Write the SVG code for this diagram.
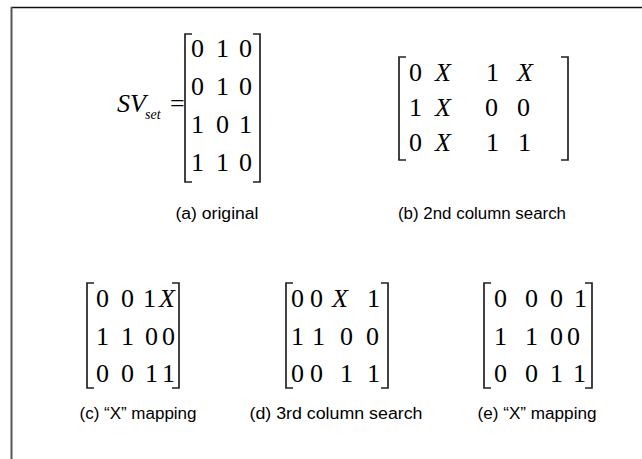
<svg xmlns="http://www.w3.org/2000/svg" width="642" height="459" viewBox="0 0 642 459">
<style>
.m{font-family:"Liberation Serif","Times New Roman",serif;font-size:26px;fill:#000}
.i{font-style:italic}
.lb{font-family:"Liberation Sans",Arial,sans-serif;font-size:16px;fill:#000;text-anchor:middle}
.br{fill:none;stroke:#222;stroke-width:1.7}
</style>
<rect width="642" height="459" fill="#fff"/>
<g id="frame">
<line x1="11" y1="7.5" x2="642" y2="7.5" stroke="#111" stroke-width="1.5"/>
<line x1="11.5" y1="7" x2="11.5" y2="459" stroke="#555" stroke-width="2"/>
</g>
<g id="a">
<text class="m i" x="117" y="112">S</text><text class="m i" x="130" y="112">V</text>
<text class="m i" x="145" y="119" style="font-size:14px">set</text>
<text class="m" x="170" y="112">=</text>
<path class="br" d="M192,34 H185 V182 H192"/>
<path class="br" d="M253,34 H260 V182 H253"/>
<text class="m" x="191" y="57">0</text><text class="m" x="216" y="57">1</text><text class="m" x="239" y="57">0</text>
<text class="m" x="191" y="95">0</text><text class="m" x="216" y="95">1</text><text class="m" x="239" y="95">0</text>
<text class="m" x="191" y="133">1</text><text class="m" x="216" y="133">0</text><text class="m" x="239" y="133">1</text>
<text class="m" x="191" y="171">1</text><text class="m" x="216" y="171">1</text><text class="m" x="239" y="171">0</text>
<text class="lb" x="217" y="219" textLength="83" lengthAdjust="spacingAndGlyphs">(a) original</text>
</g>
<g id="b">
<path class="br" d="M406,57 H399 V160 H406"/>
<path class="br" d="M561,57 H568 V160 H561"/>
<text class="m" x="409" y="81">0</text><text class="m i" x="435" y="81">X</text><text class="m" x="486" y="81">1</text><text class="m i" x="517" y="81">X</text>
<text class="m" x="409" y="116">1</text><text class="m i" x="435" y="116">X</text><text class="m" x="485" y="116">0</text><text class="m" x="517" y="116">0</text>
<text class="m" x="409" y="151">0</text><text class="m i" x="435" y="151">X</text><text class="m" x="486" y="151">1</text><text class="m" x="518" y="151">1</text>
<text class="lb" x="482" y="219" textLength="168" lengthAdjust="spacingAndGlyphs">(b) 2nd column search</text>
</g>
<g id="c">
<path class="br" d="M94,283 H87 V388 H94"/>
<path class="br" d="M172,283 H179 V388 H172"/>
<text class="m" x="96" y="307">0</text><text class="m" x="121" y="307">0</text><text class="m" x="143" y="307">1</text><text class="m i" x="159" y="307">X</text>
<text class="m" x="96" y="345">1</text><text class="m" x="121" y="345">1</text><text class="m" x="145" y="345">0</text><text class="m" x="162" y="345">0</text>
<text class="m" x="96" y="382">0</text><text class="m" x="121" y="382">0</text><text class="m" x="145" y="382">1</text><text class="m" x="162" y="382">1</text>
<text class="lb" x="138" y="419" textLength="117" lengthAdjust="spacingAndGlyphs">(c) “X” mapping</text>
</g>
<g id="d">
<path class="br" d="M293,283 H286 V388 H293"/>
<path class="br" d="M381,283 H388 V388 H381"/>
<text class="m" x="291" y="307">0</text><text class="m" x="310" y="307">0</text><text class="m i" x="332" y="307">X</text><text class="m" x="367" y="307">1</text>
<text class="m" x="291" y="345">1</text><text class="m" x="312" y="345">1</text><text class="m" x="340" y="345">0</text><text class="m" x="366" y="345">0</text>
<text class="m" x="291" y="382">0</text><text class="m" x="310" y="382">0</text><text class="m" x="340" y="382">1</text><text class="m" x="367" y="382">1</text>
<text class="lb" x="336" y="419" textLength="173" lengthAdjust="spacingAndGlyphs">(d) 3rd column search</text>
</g>
<g id="e">
<path class="br" d="M491,283 H484 V388 H491"/>
<path class="br" d="M585,283 H592 V388 H585"/>
<text class="m" x="494" y="307">0</text><text class="m" x="525" y="307">0</text><text class="m" x="550" y="307">0</text><text class="m" x="574" y="307">1</text>
<text class="m" x="494" y="345">1</text><text class="m" x="525" y="345">1</text><text class="m" x="550" y="345">0</text><text class="m" x="567" y="345">0</text>
<text class="m" x="494" y="382">0</text><text class="m" x="525" y="382">0</text><text class="m" x="550" y="382">1</text><text class="m" x="573" y="382">1</text>
<text class="lb" x="537" y="419" textLength="119" lengthAdjust="spacingAndGlyphs">(e) “X” mapping</text>
</g>
</svg>
